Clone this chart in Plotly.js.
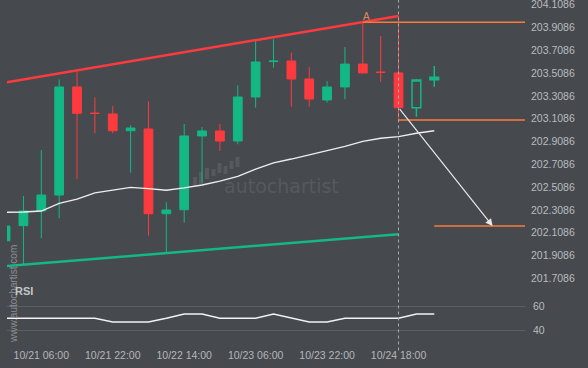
<!DOCTYPE html>
<html><head><meta charset="utf-8">
<script src="https://cdn.plot.ly/plotly-3.0.1.min.js"></script>
<style>html,body{margin:0;padding:0;background:#46494e;} #chart{width:588px;height:368px;}</style>
</head><body><div id="chart"></div>
<script>
// ---- data ----
const candleIndex = [0,1,2,3,4,5,6,7,8,9,10,11,12,13,14,15,16,17,18,19,20,21,22,23,24];
const openP  = [202.038,202.170,202.299,202.439,203.387,203.158,203.150,203.003,203.018,202.275,202.310,202.957,203.001,202.913,203.299,203.610,203.615,203.457,203.273,203.387,203.588,203.518,203.510,203.205,203.451];
const highP  = [202.167,202.431,202.834,203.454,203.521,203.296,203.220,203.051,203.261,202.375,203.062,203.036,203.062,203.402,203.790,203.805,203.688,203.560,203.439,203.738,203.957,203.834,204.010,203.457,203.571];
const lowP   = [202.038,201.834,202.060,202.235,202.577,202.981,202.981,202.635,202.082,201.928,202.196,202.542,202.825,202.884,203.205,203.556,203.214,203.214,203.249,203.279,203.501,203.431,203.097,203.126,203.389];
const closeP = [202.167,202.299,202.439,203.387,203.156,203.154,203.003,203.027,202.275,202.308,202.957,203.001,202.913,203.299,203.606,203.614,203.457,203.281,203.387,203.588,203.510,203.514,203.205,203.448,203.472];
const closedCount = 23; // last two candles drawn hollow (still forming)
const maValues = [202.288,202.290,202.299,202.365,202.404,202.457,202.483,202.507,202.496,202.481,202.501,202.527,202.562,202.602,202.667,202.722,202.755,202.790,202.825,202.865,202.909,202.937,202.951,202.981,203.003];
const rsiValues = [50.2,50.2,50.2,50.2,50.2,50.2,47.0,47.0,47.0,50.2,53.8,53.8,50.2,50.2,50.2,53.8,50.2,47.0,47.0,50.2,50.2,50.2,50.2,53.8,53.8];
const tickIdx = [2,6,10,14,18,22];
const tickLabels = ['10/21 06:00','10/21 22:00','10/22 14:00','10/23 06:00','10/23 22:00','10/24 18:00'];
const priceTicks = [201.7086,201.9086,202.1086,202.3086,202.5086,202.7086,202.9086,203.1086,203.3086,203.5086,203.7086,203.9086,204.1086];
const rsiTicks = [40,60];
// pattern lines
const resistX = [0,22], resistY = [203.426,204.010];
const supportX = [0,22], supportY = [201.815,202.095];
const levelTopX = [20,29.5], levelTopY = [203.954,203.954];
const levelLowX = [22,29.5], levelLowY = [203.097,203.097];
const targetX = [24,29.5], targetY = [202.167,202.167];
const arrowFrom = [22,203.205], arrowTo = [27.27,202.167];
const pointA = [20.2,204.007];

const GREEN='#13b884', RED='#fd3b3f', ORANGE='#fb7a3c', BG='#46494e';

// watermark logo bars (decoration, pixel boxes)
const PL=7, PW=518, PB=347, PH=347;
const logoPx = [[193,197,177,186],[199,203,172,184],[205,209,168,179],[211.5,215.5,169,176],[217.5,221.5,163,173],[223.5,227.5,166,174],[229.5,233.5,161,169],[235.5,239.5,157,167]];
const logoShapes = logoPx.map(b=>({type:'rect',xref:'paper',yref:'paper',layer:'below',
  x0:(b[0]-PL)/PW,x1:(b[1]-PL)/PW,y0:(PB-b[3])/PH,y1:(PB-b[2])/PH,fillcolor:'#56595e',line:{width:0}}));

const sl = (a,n0,n1)=>a.slice(n0,n1);
const traces = [
 {type:'scatter',mode:'lines',x:supportX,y:supportY,line:{color:GREEN,width:2.5},hoverinfo:'skip'},
 {type:'scatter',mode:'lines',x:resistX,y:resistY,line:{color:RED,width:2.5},hoverinfo:'skip'},
 {type:'scatter',mode:'lines',x:candleIndex,y:maValues,line:{color:'#eeeeee',width:1.3},hoverinfo:'skip'},
 {type:'candlestick',x:sl(candleIndex,0,closedCount),open:sl(openP,0,closedCount),high:sl(highP,0,closedCount),low:sl(lowP,0,closedCount),close:sl(closeP,0,closedCount),
  increasing:{line:{color:GREEN,width:1},fillcolor:GREEN},decreasing:{line:{color:RED,width:1},fillcolor:RED},whiskerwidth:0,hoverinfo:'skip'},
 {type:'candlestick',x:sl(candleIndex,closedCount),open:sl(openP,closedCount),high:sl(highP,closedCount),low:sl(lowP,closedCount),close:sl(closeP,closedCount),
  increasing:{line:{color:GREEN,width:1.5},fillcolor:'rgba(0,0,0,0)'},decreasing:{line:{color:RED,width:1.5},fillcolor:'rgba(0,0,0,0)'},whiskerwidth:0,hoverinfo:'skip'},
 {type:'scatter',mode:'lines',x:levelTopX,y:levelTopY,line:{color:ORANGE,width:1.5},hoverinfo:'skip'},
 {type:'scatter',mode:'lines',x:levelLowX,y:levelLowY,line:{color:ORANGE,width:1.5},hoverinfo:'skip'},
 {type:'scatter',mode:'lines',x:targetX,y:targetY,line:{color:ORANGE,width:1.5},hoverinfo:'skip'},
 {type:'scatter',mode:'lines',x:candleIndex,y:rsiValues,yaxis:'y2',line:{color:'#f2f2f2',width:1.5},hoverinfo:'skip'}
];

const layout = {
 width:588,height:368,paper_bgcolor:BG,plot_bgcolor:BG,
 margin:{l:7,r:63,t:0,b:21},showlegend:false,
 font:{family:'Liberation Sans, Arial, sans-serif',color:'#b9bcbf',size:10.5},
 xaxis:{range:[0.0795,29.08],anchor:'y2',tickmode:'array',tickvals:tickIdx,ticktext:tickLabels,showgrid:false,zeroline:false,showline:false,ticks:'',
   rangeslider:{visible:false},tickfont:{size:10.5,color:'#b4b7ba'},fixedrange:true},
 yaxis:{domain:[0.17867,1],range:[201.6498,204.1498],side:'right',tickmode:'array',tickvals:priceTicks,ticktext:priceTicks.map(v=>v.toFixed(4)),
   showgrid:false,zeroline:false,showline:false,ticks:'',ticklabelstandoff:5,ticklabeloverflow:'allow',fixedrange:true},
 yaxis2:{domain:[0,0.1585],range:[25.85,72.46],side:'right',tickmode:'array',tickvals:rsiTicks,showgrid:true,gridcolor:'#5b5e63',gridwidth:1,
   zeroline:false,showline:false,ticks:'',ticklabelstandoff:7,fixedrange:true},
 shapes:[
  {type:'line',xref:'x',yref:'paper',x0:arrowFrom[0],x1:arrowFrom[0],y0:-0.01,y1:1,line:{color:'#a9acaf',width:1,dash:'3px,3px'}}
 ].concat(logoShapes),
 annotations:[
  {x:arrowTo[0],y:arrowTo[1],ax:arrowFrom[0],ay:arrowFrom[1],xref:'x',yref:'y',axref:'x',ayref:'y',text:'',showarrow:true,arrowhead:2,arrowsize:1.2,arrowwidth:1.2,arrowcolor:'#e8e8e8'},
  {x:pointA[0],y:pointA[1],xref:'x',yref:'y',text:'A',showarrow:false,font:{size:10,color:'#df8a5a'},xanchor:'center',yanchor:'middle'},
  {x:0.529,y:0.464,xref:'paper',yref:'paper',text:'autochartist',showarrow:false,font:{family:'DejaVu Sans, sans-serif',size:19,color:'#56595e'},xanchor:'center',yanchor:'middle'},
  {x:0.0116,y:0.1527,xref:'paper',yref:'paper',text:'www.autochartist.com',textangle:-90,showarrow:false,font:{size:10,color:'#8c8f93'},xanchor:'center',yanchor:'middle'},
  {x:0.0322,y:0.1614,xref:'paper',yref:'paper',text:'<b>RSI</b>',showarrow:false,font:{size:11,color:'#c4c6c9'},xanchor:'center',yanchor:'middle'}
 ]
};
Plotly.newPlot('chart',traces,layout,{staticPlot:true,displayModeBar:false});
</script></body></html>
